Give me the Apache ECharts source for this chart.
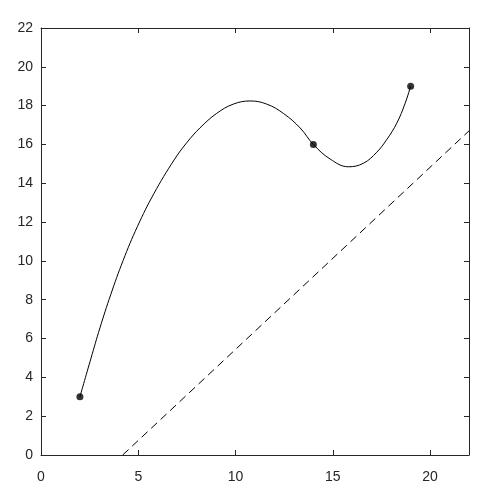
<!DOCTYPE html>
<html>
<head>
<meta charset="utf-8">
<script src="https://cdn.jsdelivr.net/npm/echarts@6/dist/echarts.min.js"></script>
<style>html,body{margin:0;padding:0;background:#fff;}#c{width:504px;height:492px;}</style>
</head>
<body>
<div id="c"></div>
<script>
var curveX = [2, 2.56, 3.03, 3.58, 4.22, 4.95, 5.81, 6.84, 7.5, 8.17, 9.03, 9.89, 10.75, 11.6, 12.46, 13.32, 14.0, 14.86, 15.8, 16.57, 17.26, 17.77, 18.29, 18.71, 19];
var curveY = [3, 4.95, 6.55, 8.25, 10.02, 11.76, 13.48, 15.2, 16.1, 16.85, 17.6, 18.08, 18.24, 18.08, 17.6, 16.85, 16.0, 15.25, 14.85, 15.03, 15.6, 16.25, 17.1, 18.1, 19];
var pointX = [2, 14, 19];
var pointY = [3, 16, 19];
var lineX = [4.2, 22];
var lineY = [0, 16.7];
var xTicks = [0, 5, 10, 15, 20];
var yTicks = [0, 2, 4, 6, 8, 10, 12, 14, 16, 18, 20, 22];

function zip(a, b) { return a.map(function (v, i) { return [v, b[i]]; }); }

var axisColor = '#262626';
var font = 'Liberation Sans, Arial, sans-serif';
var chart = echarts.init(document.getElementById('c'));
chart.setOption({
  animation: false,
  backgroundColor: '#fff',
  grid: { left: 41, top: 28, width: 428, height: 427, containLabel: false },
  xAxis: [
    { type: 'value', min: 0, max: 22, interval: 5, position: 'bottom',
      axisLine: { show: true, onZero: false, lineStyle: { color: axisColor, width: 1 } },
      axisTick: { show: true, inside: true, length: 5, lineStyle: { color: axisColor } },
      axisLabel: { show: true, margin: 15, color: axisColor, fontSize: 14, fontFamily: font, showMaxLabel: false,
        formatter: function (v) { return xTicks.indexOf(v) >= 0 ? String(v) : ''; } },
      splitLine: { show: false } },
    { type: 'value', min: 0, max: 22, interval: 5, position: 'top',
      axisLine: { show: true, onZero: false, lineStyle: { color: axisColor, width: 1 } },
      axisTick: { show: true, inside: true, length: 5, lineStyle: { color: axisColor } },
      axisLabel: { show: false }, splitLine: { show: false } }
  ],
  yAxis: [
    { type: 'value', min: 0, max: 22, interval: 2, position: 'left',
      axisLine: { show: true, onZero: false, lineStyle: { color: axisColor, width: 1 } },
      axisTick: { show: true, inside: true, length: 5, lineStyle: { color: axisColor } },
      axisLabel: { show: true, margin: 8, color: axisColor, fontSize: 14, fontFamily: font,
        formatter: function (v) { return yTicks.indexOf(v) >= 0 ? String(v) : ''; } },
      splitLine: { show: false } },
    { type: 'value', min: 0, max: 22, interval: 2, position: 'right',
      axisLine: { show: true, onZero: false, lineStyle: { color: axisColor, width: 1 } },
      axisTick: { show: true, inside: true, length: 5, lineStyle: { color: axisColor } },
      axisLabel: { show: false }, splitLine: { show: false } }
  ],
  series: [
    { type: 'line', data: zip(lineX, lineY), symbol: 'none', clip: true,
      lineStyle: { color: '#000', width: 1, type: [8, 5] } },
    { type: 'line', data: zip(curveX, curveY), symbol: 'none', smooth: 0.4, clip: true,
      lineStyle: { color: '#000', width: 1 } },
    { type: 'scatter', data: zip(pointX, pointY), symbol: 'circle', symbolSize: 7,
      itemStyle: { color: '#000' } }
  ]
});
</script>
</body>
</html>
